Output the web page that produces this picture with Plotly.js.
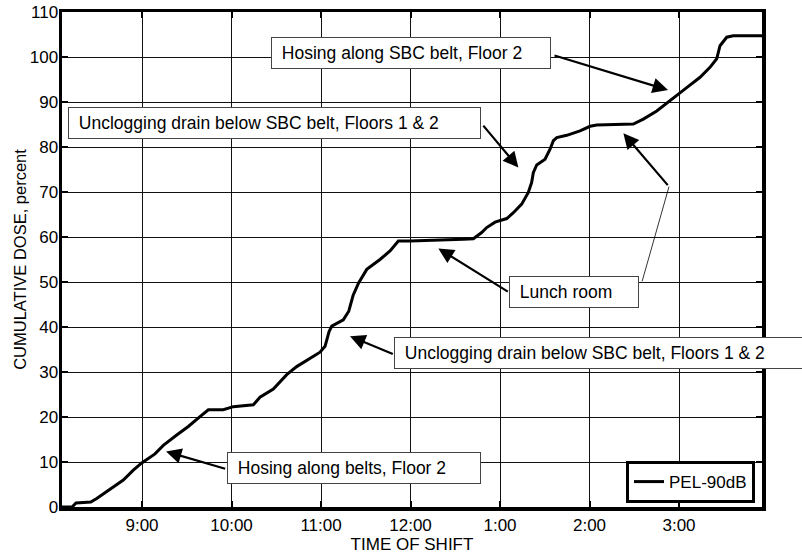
<!DOCTYPE html>
<html>
<head>
<meta charset="utf-8">
<script src="https://cdn.plot.ly/plotly-3.0.1.min.js"></script>
<style>html,body{margin:0;padding:0;background:#fff;}#chart{width:802px;height:555px;}</style>
</head>
<body>
<div id="chart"></div>
<script>
// Time of shift in decimal hours (24h clock) and cumulative dose in percent
const timeHours = [8.106, 8.218, 8.263, 8.427, 8.494, 8.642, 8.791, 8.903, 8.997, 9.145,
  9.238, 9.388, 9.517, 9.648, 9.741, 9.908, 10.020, 10.244, 10.281, 10.318,
  10.467, 10.617, 10.728, 10.858, 10.989, 11.045, 11.090, 11.120, 11.249, 11.310,
  11.358, 11.420, 11.511, 11.659, 11.771, 11.864, 11.994, 12.590, 12.702, 12.795,
  12.851, 12.944, 13.075, 13.149, 13.242, 13.316, 13.353, 13.372, 13.410, 13.503,
  13.559, 13.596, 13.634, 13.745, 13.894, 14.006, 14.080, 14.489, 14.601, 14.751,
  14.937, 15.086, 15.235, 15.346, 15.421, 15.458, 15.533, 15.606, 15.927];
const dosePct = [0, 0, 0.9, 1.1, 1.9, 3.9, 6.0, 8.2, 9.8, 11.8,
  13.7, 16.0, 17.9, 20.1, 21.6, 21.6, 22.3, 22.7, 23.5, 24.4,
  26.2, 29.4, 31.2, 32.7, 34.4, 35.7, 39.0, 40.2, 41.6, 43.5,
  47.0, 49.8, 52.8, 55.0, 56.9, 59.1, 59.1, 59.5, 59.6, 61.0,
  62.1, 63.3, 64.1, 65.4, 67.3, 69.9, 72.1, 74.3, 76.0, 77.3,
  79.5, 81.4, 82.1, 82.6, 83.6, 84.6, 84.9, 85.1, 86.2, 88.0,
  91.0, 93.2, 95.5, 97.7, 99.6, 102.5, 104.4, 104.7, 104.7];
const seriesName = "PEL-90dB";

const xTickVals = [9, 10, 11, 12, 13, 14, 15];
const xTickText = ["9:00", "10:00", "11:00", "12:00", "1:00", "2:00", "3:00"];
const yTickVals = [0, 10, 20, 30, 40, 50, 60, 70, 80, 90, 100, 110];

// Callout labels: text, left x (hours), centre y (percent)
const labelTexts = [
  "Hosing along SBC belt, Floor 2",
  "Unclogging drain below SBC belt, Floors 1 & 2",
  "Lunch room",
  "Unclogging drain below SBC belt, Floors 1 & 2",
  "Hosing along belts, Floor 2"
];
const labelX = [10.441, 8.173, 13.104, 11.819, 9.950];
const labelY = [100.96, 85.30, 47.88, 34.23, 8.69];
const labelW = [268, 401, 118, 401, 242];

// Arrows: tail (x,y) -> head (x,y)
const arrowTailX = [13.592, 12.799, 13.104, 14.888, 11.819, 9.946];
const arrowTailY = [100.45, 85.08, 47.66, 71.20, 33.85, 8.40];
const arrowHeadX = [14.877, 13.205, 12.311, 14.378, 11.324, 9.268];
const arrowHeadY = [92.65, 75.43, 57.46, 83.07, 37.93, 12.32];
// thin leader from "Lunch room" box
const leaderTail = [14.583, 49.82];
const leaderHead = [14.888, 71.20];

const FONT = "Liberation Sans, Arial, sans-serif";

const annotations = [];
for (let i = 0; i < labelTexts.length; i++) {
  annotations.push({
    x: labelX[i], y: labelY[i], xref: "x", yref: "y",
    xanchor: "left", yanchor: "middle",
    text: "\u00a0" + labelTexts[i], showarrow: false,
    width: labelW[i], align: "left",
    bgcolor: "#ffffff", bordercolor: "#444444", borderwidth: 1, borderpad: 5,
    font: {family: FONT, size: 17.5, color: "#000"}
  });
}
for (let i = 0; i < arrowTailX.length; i++) {
  annotations.push({
    x: arrowHeadX[i], y: arrowHeadY[i], xref: "x", yref: "y",
    ax: arrowTailX[i], ay: arrowTailY[i], axref: "x", ayref: "y",
    text: "", showarrow: true, arrowhead: 2, arrowsize: 1.4, arrowwidth: 2.2,
    arrowcolor: "#000", standoff: 0, startstandoff: 0
  });
}
annotations.push({
  x: leaderHead[0], y: leaderHead[1], xref: "x", yref: "y",
  ax: leaderTail[0], ay: leaderTail[1], axref: "x", ayref: "y",
  text: "", showarrow: true, arrowhead: 0, arrowwidth: 0.8, arrowcolor: "#000"
});

const trace = {
  x: timeHours, y: dosePct, type: "scatter", mode: "lines", name: seriesName,
  line: {color: "#000", width: 3}, showlegend: true
};

const axisCommon = {
  showline: true, linecolor: "#000", linewidth: 3.5, mirror: "ticks",
  ticks: "inside", ticklen: 6, tickwidth: 2, tickcolor: "#000",
  showgrid: true, gridcolor: "#111", gridwidth: 1, zeroline: false,
  tickfont: {family: FONT, size: 17, color: "#000"}
};

const layout = {
  width: 802, height: 555,
  margin: {l: 62, r: 40, t: 12, b: 48},
  paper_bgcolor: "#fff", plot_bgcolor: "#fff",
  font: {family: FONT, color: "#000"},
  showlegend: true,
  legend: {
    x: 0.99, y: 0.008, xanchor: "right", yanchor: "bottom",
    bordercolor: "#000", borderwidth: 3, bgcolor: "#fff",
    font: {family: FONT, size: 17, color: "#000"},
    itemwidth: 30, tracegroupgap: 0
  },
  xaxis: Object.assign({}, axisCommon, {
    range: [8.106, 15.927], tickmode: "array", tickvals: xTickVals, ticktext: xTickText,
    title: {text: "TIME OF SHIFT", font: {family: FONT, size: 17, color: "#000"}, standoff: 2}
  }),
  yaxis: Object.assign({}, axisCommon, {
    range: [0, 110], tickmode: "array", tickvals: yTickVals, ticklabelstandoff: -3,
    title: {text: "CUMULATIVE DOSE, percent", font: {family: FONT, size: 16.5, color: "#000"}, standoff: 0}
  }),
  annotations: annotations
};

Plotly.newPlot("chart", [trace], layout, {displayModeBar: false, staticPlot: true});
</script>
</body>
</html>
